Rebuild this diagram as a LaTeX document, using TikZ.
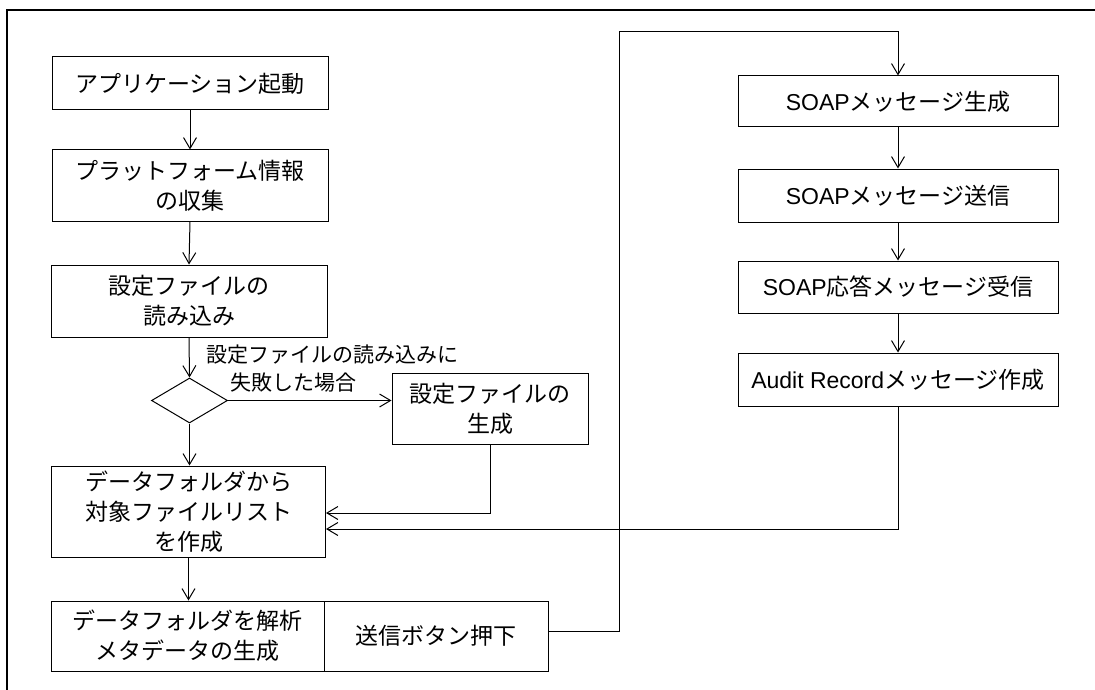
\documentclass[tikz,border=0pt]{standalone}
\usepackage{fontspec}
\setmainfont{Noto Sans CJK JP}
\newfontfamily\latf{Liberation Sans}
\usetikzlibrary{arrows.meta,shapes.geometric,calc}
\begin{document}
\begin{tikzpicture}[x=1pt,y=-1pt,
  box/.style={draw,line width=1pt,inner sep=0pt,align=center,
    font=\fontsize{23}{30}\selectfont},
  conn/.style={line width=1pt},
  arr/.style={line width=1pt,-{Straight Barb[length=11pt,width=13pt,line width=1pt]}},
  lab/.style={inner sep=0pt,align=left,font=\fontsize{21}{28}\selectfont}]
\useasboundingbox (0,0) rectangle (1095,690);
% outer frame (top and left)
\draw[line width=1.3pt] (1095,10) -- (7,10) -- (7,690);

% left column
\node[box,minimum width=276pt,minimum height=53pt] (b1) at (190,83.5) {アプリケーション起動};
\node[box,minimum width=276pt,minimum height=71pt] (b2) at (190,185.5) {プラットフォーム情報\\の収集};
\node[box,minimum width=276pt,minimum height=72pt] (b3) at (189,301) {設定ファイルの\\読み込み};
\node[draw,line width=1pt,diamond,minimum width=76pt,minimum height=45pt,inner sep=0pt] (dia) at (189.5,400.5) {};
\node[box,minimum width=196pt,minimum height=71pt] (b4) at (490,408.5) {設定ファイルの\\生成};
\node[box,minimum width=274pt,minimum height=91pt] (b5) at (188.5,511.5) {データフォルダから\\対象ファイルリスト\\を作成};
\node[box,minimum width=273pt,minimum height=70pt] (b6) at (187.5,636) {データフォルダを解析\\メタデータの生成};
\node[box,minimum width=224pt,minimum height=70pt] (b7) at (436,636) {送信ボタン押下};

% right column
\node[box,minimum width=320pt,minimum height=51pt] (r1) at (898,101.5) {{\latf SOAP}メッセージ生成};
\node[box,minimum width=320pt,minimum height=53pt] (r2) at (898,195.5) {{\latf SOAP}メッセージ送信};
\node[box,minimum width=320pt,minimum height=52pt] (r3) at (898,287) {{\latf SOAP}応答メッセージ受信};
\node[box,minimum width=320pt,minimum height=53pt] (r4) at (898,379.5) {{\latf Audit Record}メッセージ作成};

% label
\node[lab,anchor=west] (lbl) at (206,369) {設定ファイルの読み込みに\\\hspace*{24pt}失敗した場合};

% connectors
\draw[arr] (b1.south) -- (b2.north);
\draw[arr] (b2.south) -- (b3.north);
\draw[arr] (b3.south) -- (dia.north);
\draw[arr] (dia.south) -- (dia.south |- b5.north);
\draw[arr] (dia.east) -- (dia.east -| b4.west);
\draw[arr] (b4.south) |- ($(b5.east)+(0,1.5)$);
\draw[arr] (b5.south) -- (b5.south |- b6.north);
\coordinate (ltop) at (619,32);
\draw[arr] ($(b7.east)+(0,-5)$) -| (ltop) -| (r1.north);
\draw[arr] (r1.south) -- (r2.north);
\draw[arr] (r2.south) -- (r3.north);
\draw[arr] (r3.south) -- (r4.north);
\draw[arr] (r4.south) |- ($(b5.east)+(0,17.5)$);
\end{tikzpicture}
\end{document}
